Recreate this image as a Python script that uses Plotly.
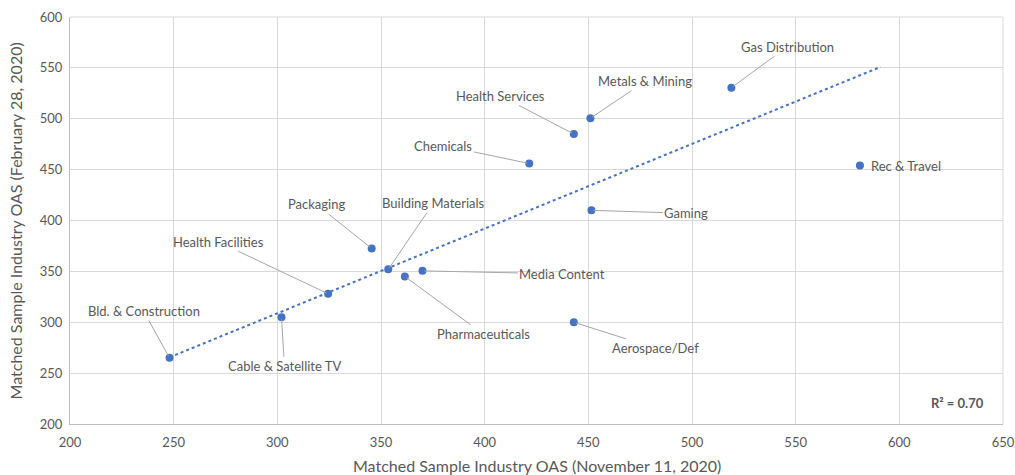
import plotly.graph_objects as go

industries = ["Bld. & Construction", "Cable & Satellite TV", "Health Facilities", "Packaging",
              "Building Materials", "Pharmaceuticals", "Media Content", "Aerospace/Def",
              "Chemicals", "Health Services", "Metals & Mining", "Gaming",
              "Gas Distribution", "Rec & Travel"]
oas_nov = [248, 302, 324.5, 345.5, 353.5, 361.5, 370, 443, 421.5, 443, 451, 451.5, 519, 581]
oas_feb = [265, 305, 328, 372.5, 352, 345, 350.5, 300, 456, 485, 500.5, 410, 530.5, 454]

# trend line endpoints
trend_x = [248, 591]
trend_y = [265.5, 551]
r2_text = "R² = 0.70"
x_title = "Matched Sample Industry OAS (November 11, 2020)"
y_title = "Matched Sample Industry OAS (February 28, 2020)"

# label offsets (pixels) relative to each point
label_dx = [-26, 3, -110, -55, 45, 79, 140, 82, -86, -73, 55, 95, 56, 0]
label_dy = [-47, 49, -52, -44, -66, 58, 3, 26, -18, -38, -37, 3, -41, 0]

BLUE = "#4472C4"
TXT = "#595959"
FONT = "Lato"

fig = go.Figure()
fig.add_trace(go.Scatter(x=trend_x, y=trend_y, mode="lines",
                         line=dict(color=BLUE, width=2, dash="dot"),
                         hoverinfo="skip", showlegend=False))
fig.add_trace(go.Scatter(x=oas_nov, y=oas_feb, mode="markers",
                         marker=dict(color=BLUE, size=8),
                         text=industries, showlegend=False))

annotations = []
for name, x, y, dx, dy in zip(industries, oas_nov, oas_feb, label_dx, label_dy):
    if name == "Rec & Travel":
        annotations.append(dict(x=x, y=y, text=name, showarrow=False, xanchor="left",
                                xshift=9, font=dict(family=FONT, size=13, color=TXT)))
    else:
        annotations.append(dict(x=x, y=y, text=name, showarrow=True, ax=dx, ay=dy,
                                arrowhead=0, arrowwidth=1, arrowcolor="#A6A6A6",
                                standoff=2, font=dict(family=FONT, size=13, color=TXT)))
annotations.append(dict(x=0.951, y=0.052, xref="paper", yref="paper", text="<b>" + r2_text + "</b>",
                        showarrow=False, xanchor="center", yanchor="middle",
                        font=dict(family=FONT, size=13, color=TXT)))
annotations.append(dict(x=0.5, y=-0.103, xref="paper", yref="paper", text=x_title,
                        showarrow=False, xanchor="center", yanchor="middle",
                        font=dict(family=FONT, size=16, color=TXT)))
annotations.append(dict(x=-0.058, y=0.5, xref="paper", yref="paper", text=y_title,
                        showarrow=False, textangle=-90, xanchor="center", yanchor="middle",
                        font=dict(family=FONT, size=16, color=TXT)))

fig.update_layout(
    width=1015, height=475,
    margin=dict(l=70, r=12, t=17, b=51),
    plot_bgcolor="white", paper_bgcolor="white",
    annotations=annotations,
    font=dict(family=FONT, color=TXT),
    xaxis=dict(range=[200, 650], dtick=50, showgrid=True, gridcolor="#D9D9D9",
               showline=True, linecolor="#BFBFBF", zeroline=False, ticks="",
               automargin=False, ticklabelstandoff=6,
               tickfont=dict(size=13, color=TXT)),
    yaxis=dict(range=[200, 600], dtick=50, showgrid=True, gridcolor="#D9D9D9",
               showline=True, linecolor="#BFBFBF", zeroline=False, ticks="",
               automargin=False, ticklabelstandoff=4,
               tickfont=dict(size=13, color=TXT)),
)
fig.add_shape(type="line", xref="paper", yref="paper", x0=1, x1=1, y0=0, y1=1,
              line=dict(color="#D9D9D9", width=1))
fig.add_shape(type="line", xref="paper", yref="paper", x0=0, x1=1, y0=1, y1=1,
              line=dict(color="#D9D9D9", width=1))

fig.write_html("out.html", config={"displayModeBar": False},
               post_script="document.body.style.margin='0';document.body.style.overflow='hidden';")
